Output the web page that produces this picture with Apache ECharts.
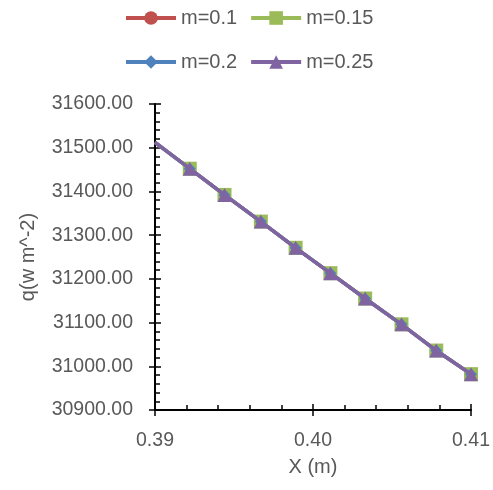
<!DOCTYPE html>
<html>
<head>
<meta charset="utf-8">
<script src="https://cdn.jsdelivr.net/npm/echarts@6/dist/echarts.min.js"></script>
<style>html,body{margin:0;padding:0;background:#fff}#c{width:493px;height:490px}</style>
</head>
<body>
<div id="c"></div>
<script>
const xValues = [0.39, 0.3922, 0.3944, 0.3967, 0.3989, 0.4011, 0.4033, 0.4056, 0.4078, 0.41];
const m01 = [31512, 31452, 31392, 31331, 31271, 31213, 31155, 31096, 31036, 30982];
const m015 = [31512, 31452, 31392, 31331, 31271, 31213, 31155, 31096, 31036, 30982];
const m02 = [31512, 31452, 31392, 31331, 31271, 31213, 31155, 31096, 31036, 30982];
const m025 = [31512, 31452, 31392, 31331, 31271, 31213, 31155, 31096, 31036, 30982];
const seriesNames = ['m=0.1', 'm=0.15', 'm=0.2', 'm=0.25'];
const colors = ['#C0504D', '#9BBB59', '#4F81BD', '#8064A2'];
const symbols = ['circle', 'rect', 'diamond', 'triangle'];
const symbolSizes = [12, 14, 12, 14];
const allData = [m01, m015, m02, m025];

const FONT = 'Liberation Sans';
const TXT = '#595959';

function pts(vals) {
  return vals.map((v, i) => i === 0 ? { value: [xValues[i], v], symbol: 'none' } : [xValues[i], v]);
}

const chart = echarts.init(document.getElementById('c'), null, { renderer: 'canvas' });
const axisLine = { show: true, onZero: false, lineStyle: { color: '#000', width: 2 } };
const legendCommon = { left: 119, itemWidth: 50, itemHeight: 17, itemGap: 12,
  lineStyle: { width: 4 },
  textStyle: { fontFamily: FONT, fontSize: 20, color: TXT } };

chart.setOption({
  animation: false,
  color: colors,
  textStyle: { fontFamily: FONT, color: TXT },
  legend: [
    Object.assign({ data: ['m=0.1', 'm=0.15'], top: 3 }, legendCommon),
    Object.assign({ data: ['m=0.2', 'm=0.25'], top: 47 }, legendCommon)
  ],
  grid: { left: 155, right: 22, top: 104, bottom: 80, containLabel: false },
  xAxis: [
    { type: 'value', min: 0.39, max: 0.41, interval: 0.01,
      name: 'X (m)', nameLocation: 'middle', nameGap: 47,
      nameTextStyle: { fontFamily: FONT, fontSize: 20, color: TXT },
      axisLine: axisLine,
      axisTick: { show: true, inside: true, length: 6, lineStyle: { color: '#000', width: 1.5 } },
      minorTick: { show: true, splitNumber: 5, length: 5, lineStyle: { color: '#000', width: 1.5 } },
      splitLine: { show: false },
      axisLabel: { fontFamily: FONT, fontSize: 19.5, color: TXT, margin: 21, formatter: v => v.toFixed(2) } },
    { type: 'value', min: 0.39, max: 0.41, interval: 0.01, position: 'bottom',
      axisLine: { show: false, onZero: false },
      axisTick: { show: true, inside: false, length: 6, lineStyle: { color: '#000', width: 1.5 } },
      splitLine: { show: false }, axisLabel: { show: false } }
  ],
  yAxis: [
    { type: 'value', min: 30900, max: 31600, interval: 100,
      name: 'q(w m^-2)', nameLocation: 'middle', nameGap: 117, nameRotate: 90,
      nameTextStyle: { fontFamily: FONT, fontSize: 20, color: TXT },
      axisLine: axisLine,
      axisTick: { show: true, inside: true, length: 6, lineStyle: { color: '#000', width: 1.5 } },
      minorTick: { show: true, splitNumber: 5, length: 5, lineStyle: { color: '#000', width: 1.5 } },
      splitLine: { show: false },
      axisLabel: { fontFamily: FONT, fontSize: 19.5, color: TXT, margin: 22, formatter: v => v.toFixed(2) } },
    { type: 'value', min: 30900, max: 31600, interval: 100, position: 'left',
      axisLine: { show: false, onZero: false },
      axisTick: { show: true, inside: false, length: 6, lineStyle: { color: '#000', width: 1.5 } },
      splitLine: { show: false }, axisLabel: { show: false } }
  ],
  series: seriesNames.map((n, k) => ({
    name: n, type: 'line', xAxisIndex: 0, yAxisIndex: 0,
    data: pts(allData[k]),
    symbol: symbols[k], symbolSize: symbolSizes[k], showAllSymbol: true,
    lineStyle: { width: 3.5, color: colors[k] },
    itemStyle: { color: colors[k] },
    z: 2 + k
  }))
});
</script>
</body>
</html>
